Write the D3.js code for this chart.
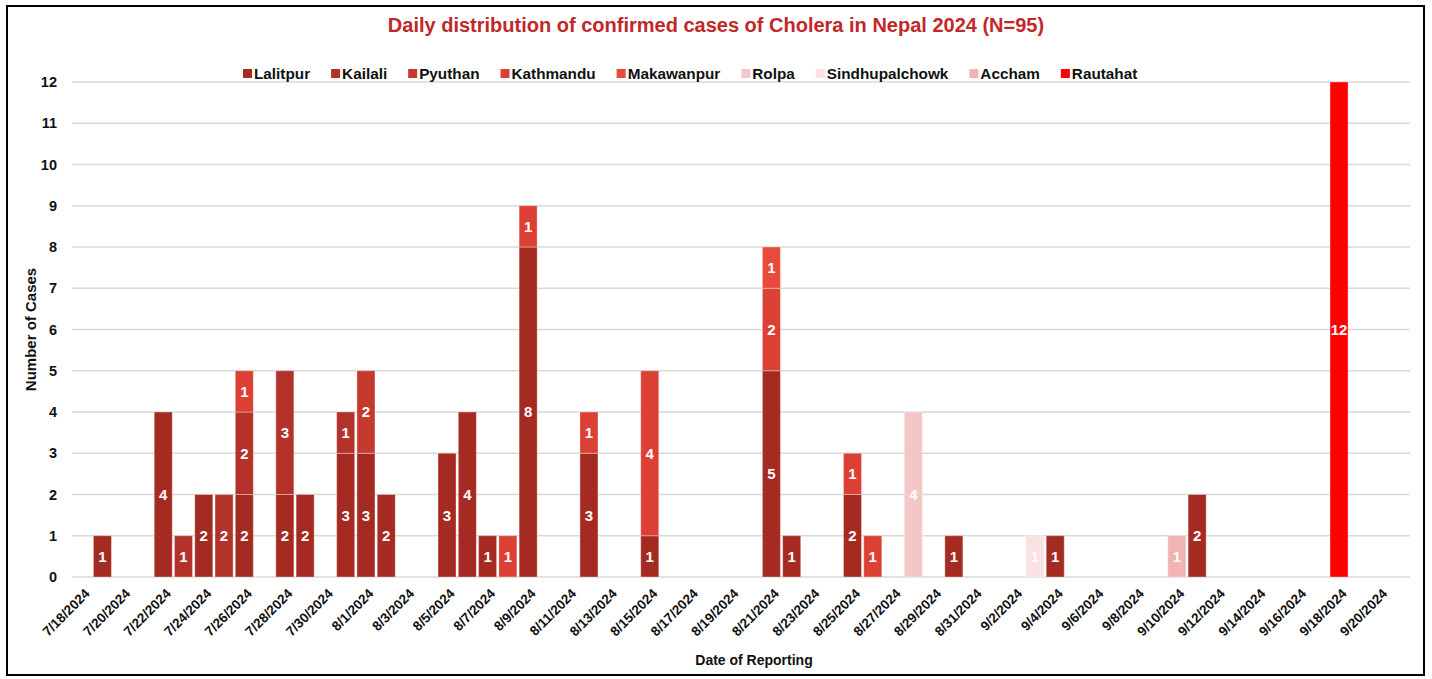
<!DOCTYPE html>
<html>
<head>
<meta charset="utf-8">
<script src="https://cdn.jsdelivr.net/npm/d3@7"></script>
<style>
  body { margin: 0; background: #fff; }
  svg text { font-family: "Liberation Sans", Arial, sans-serif; font-weight: bold; }
</style>
</head>
<body>
<div id="chart"></div>
<script>
// reporting days that had cases, and cases per district on each of them
var reportDates = ['7/19/2024','7/22/2024','7/23/2024','7/24/2024','7/25/2024','7/26/2024','7/28/2024','7/29/2024',
    '7/31/2024','8/1/2024','8/2/2024','8/5/2024','8/6/2024','8/7/2024','8/8/2024','8/9/2024','8/12/2024','8/15/2024',
    '8/21/2024','8/22/2024','8/25/2024','8/26/2024','8/28/2024','8/30/2024','9/3/2024','9/4/2024','9/10/2024',
    '9/11/2024','9/18/2024'];

var lalitpur       = [1,4,0,2,0,2,2,2,3,3,2,3,4,1,0,8,3,1,5,1,2,0,0,1,0,1,0,2,0];
var kailali        = [0,0,1,0,2,2,3,0,1,0,0,0,0,0,0,0,0,0,0,0,0,0,0,0,0,0,0,0,0];
var pyuthan        = [0,0,0,0,0,0,0,0,0,2,0,0,0,0,0,0,0,0,0,0,0,0,0,0,0,0,0,0,0];
var kathmandu      = [0,0,0,0,0,1,0,0,0,0,0,0,0,0,1,1,1,4,2,0,1,1,0,0,0,0,0,0,0];
var makawanpur     = [0,0,0,0,0,0,0,0,0,0,0,0,0,0,0,0,0,0,1,0,0,0,0,0,0,0,0,0,0];
var rolpa          = [0,0,0,0,0,0,0,0,0,0,0,0,0,0,0,0,0,0,0,0,0,0,4,0,0,0,0,0,0];
var sindhupalchowk = [0,0,0,0,0,0,0,0,0,0,0,0,0,0,0,0,0,0,0,0,0,0,0,0,1,0,0,0,0];
var accham         = [0,0,0,0,0,0,0,0,0,0,0,0,0,0,0,0,0,0,0,0,0,0,0,0,0,0,1,0,0];
var rautahat       = [0,0,0,0,0,0,0,0,0,0,0,0,0,0,0,0,0,0,0,0,0,0,0,0,0,0,0,0,12];

var districts = ['Lalitpur','Kailali','Pyuthan','Kathmandu','Makawanpur','Rolpa','Sindhupalchowk','Accham','Rautahat'];
var seriesValues = [lalitpur, kailali, pyuthan, kathmandu, makawanpur, rolpa, sindhupalchowk, accham, rautahat];
var colors = ['#a52a22','#b3322a','#c53a2f','#dc4034','#e84a3c','#f4c7c7','#fbe2e2','#f2b3b3','#ff0000'];

var yTicks = [0,1,2,3,4,5,6,7,8,9,10,11,12];
var firstDay = '7/18/2024', lastDay = '9/21/2024';

var W = 1432, H = 679;
var margin = {left: 72, right: 22, top: 82, bottom: 102};

var parse = d3.timeParse('%m/%d/%Y');
var fmt = d3.timeFormat('%-m/%-d/%Y');
var allDays = d3.timeDay.range(parse(firstDay), d3.timeDay.offset(parse(lastDay), 1)).map(fmt);
var tickDays = allDays.filter(function(d, i) { return i % 2 === 0 && i < allDays.length - 1; });

var svg = d3.select('#chart').append('svg')
    .attr('width', W)
    .attr('height', H);

svg.append('rect')
    .attr('x', 7).attr('y', 6)
    .attr('width', 1417).attr('height', 669)
    .attr('fill', '#fff')
    .attr('stroke', '#000')
    .attr('stroke-width', 2);

var x = d3.scaleBand()
    .domain(allDays)
    .range([margin.left, W - margin.right])
    .paddingInner(0.11)
    .paddingOuter(0.055);

var y = d3.scaleLinear()
    .domain([0, 12])
    .range([H - margin.bottom, margin.top]);

// gridlines
svg.append('g')
    .selectAll('line')
    .data(yTicks)
    .enter()
    .append('line')
    .attr('x1', margin.left)
    .attr('x2', W - margin.right)
    .attr('y1', function(d) { return y(d); })
    .attr('y2', function(d) { return y(d); })
    .attr('stroke', '#d9d9d9')
    .attr('stroke-width', 1.3);

// y axis
var yAxis = svg.append('g')
    .attr('transform', 'translate(' + (margin.left - 15) + ',0)')
    .call(d3.axisLeft(y).tickValues(yTicks).tickSize(0).tickPadding(0));
yAxis.select('.domain').remove();
yAxis.selectAll('text')
    .attr('font-size', 14.5)
    .attr('fill', '#111');

// x axis
var xAxis = svg.append('g')
    .attr('transform', 'translate(0,' + y(0) + ')')
    .call(d3.axisBottom(x).tickValues(tickDays).tickSize(0));
xAxis.select('.domain').remove();
xAxis.selectAll('text')
    .attr('font-size', 13.5)
    .attr('fill', '#111')
    .attr('text-anchor', 'end')
    .attr('dy', '0.35em')
    .attr('transform', 'translate(3,12) rotate(-45)');

// stacked bars
var table = reportDates.map(function(d, i) {
    var row = {date: d};
    districts.forEach(function(name, k) { row[name] = seriesValues[k][i]; });
    return row;
});
var stacked = d3.stack().keys(districts)(table);

var layers = svg.selectAll('g.layer')
    .data(stacked)
    .enter()
    .append('g')
    .classed('layer', true)
    .attr('fill', function(d, i) { return colors[i]; });

layers.selectAll('rect')
    .data(function(d) { return d.filter(function(s) { return s[1] > s[0]; }); })
    .enter()
    .append('rect')
    .attr('x', function(d) { return x(d.data.date); })
    .attr('width', x.bandwidth())
    .attr('y', function(d) { return y(d[1]); })
    .attr('height', function(d) { return y(d[0]) - y(d[1]); })
    .attr('stroke', 'rgba(255,255,255,0.35)')
    .attr('stroke-width', 1);

layers.selectAll('text')
    .data(function(d) { return d.filter(function(s) { return s[1] > s[0]; }); })
    .enter()
    .append('text')
    .attr('x', function(d) { return x(d.data.date) + x.bandwidth() / 2; })
    .attr('y', function(d) { return (y(d[0]) + y(d[1])) / 2; })
    .attr('dy', '0.36em')
    .attr('text-anchor', 'middle')
    .attr('font-size', 15)
    .attr('fill', '#fff')
    .text(function(d) { return d[1] - d[0]; });

// title
svg.append('text')
    .attr('x', 716)
    .attr('y', 32)
    .attr('text-anchor', 'middle')
    .attr('font-size', 20)
    .attr('fill', '#c0282a')
    .text('Daily distribution of confirmed cases of Cholera in Nepal 2024 (N=95)');

// legend
var legend = svg.append('g');
var lx = 243;
districts.forEach(function(name, i) {
    legend.append('rect')
        .attr('x', lx).attr('y', 69)
        .attr('width', 9).attr('height', 9)
        .attr('fill', colors[i]);
    var t = legend.append('text')
        .attr('x', lx + 11)
        .attr('y', 79)
        .attr('font-size', 15.3)
        .attr('fill', '#111')
        .text(name);
    lx += 11 + t.node().getComputedTextLength() + 21;
});

// axis titles
svg.append('text')
    .attr('transform', 'translate(36,' + ((y(0) + y(12)) / 2) + ') rotate(-90)')
    .attr('text-anchor', 'middle')
    .attr('font-size', 15)
    .attr('fill', '#111')
    .text('Number of Cases');

svg.append('text')
    .attr('x', 754)
    .attr('y', 665)
    .attr('text-anchor', 'middle')
    .attr('font-size', 14)
    .attr('fill', '#111')
    .text('Date of Reporting');
</script>
</body>
</html>
